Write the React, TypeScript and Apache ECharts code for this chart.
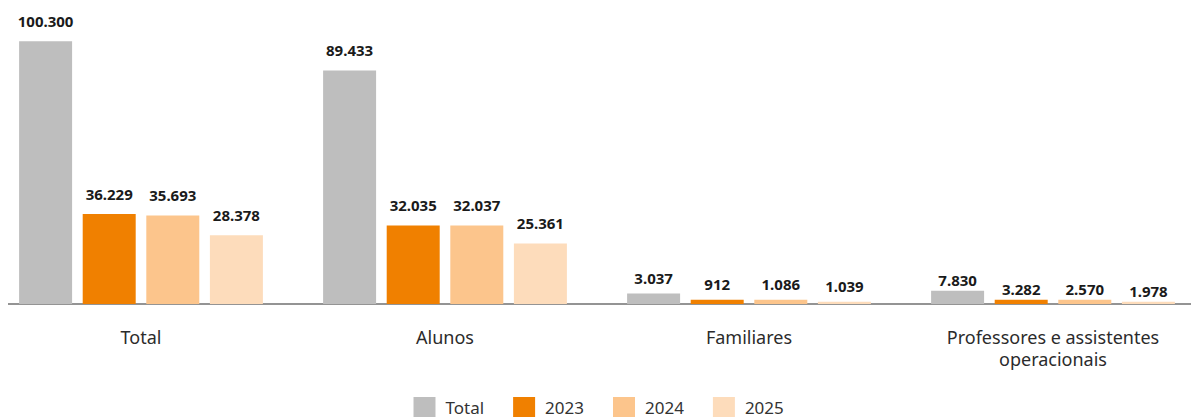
import React, { useEffect, useRef } from "react";
import * as echarts from "echarts";

const categories = ["Total", "Alunos", "Familiares", "Professores e assistentes\noperacionais"];
const seriesNames = ["Total", "2023", "2024", "2025"];
const totalValues = [100300, 89433, 3037, 7830];
const values2023 = [36229, 32035, 912, 3282];
const values2024 = [35693, 32037, 1086, 2570];
const values2025 = [28378, 25361, 1039, 1978];
const colors = ["#bebebe", "#f08000", "#fcc58c", "#fddcbb"];
const minHeights = [10.6, 4.3, 4.3, 2.3];
const labelDistances = [13, 13, 8, 3];

const fmt = (v: number) => String(Math.round(v)).replace(/\B(?=(\d{3})+(?!\d))/g, ".");

export default function App() {
  const ref = useRef<HTMLDivElement>(null);
  useEffect(() => {
    if (!ref.current) return;
    const chart = echarts.init(ref.current, null, { renderer: "svg" });
    const all = [totalValues, values2023, values2024, values2025];
    chart.setOption({
      animation: false,
      textStyle: { fontFamily: "Noto Sans" },
      grid: { left: 0, right: 0, top: 15, bottom: 113, containLabel: false },
      legend: {
        left: 424.5,
        top: 397,
        padding: 0,
        itemWidth: 22,
        itemHeight: 20,
        itemGap: 29,
        icon: "rect",
        textStyle: { fontSize: 17, color: "#333", padding: [0, 0, 0, 5], fontFamily: "Noto Sans" },
        data: seriesNames,
      },
      xAxis: {
        type: "category",
        data: categories,
        axisLine: { lineStyle: { color: "#707070", width: 1.5 } },
        axisTick: { show: false },
        axisLabel: { fontSize: 18, color: "#2b2b2b", lineHeight: 22, margin: 22, fontFamily: "Noto Sans" },
      },
      yAxis: {
        type: "value",
        show: false,
        min: 0,
        max: 110000,
        splitLine: { show: false },
        breaks: [{ start: 0, end: 2930, gap: 1 }],
        breakArea: { show: false },
      },
      series: all.map((d, i) => ({
        name: seriesNames[i],
        type: "bar",
        data: d.map((v, j) => ({ value: v, label: { distance: labelDistances[j] } })),
        barWidth: 53,
        barGap: "20%",
        barMinHeight: minHeights[i],
        itemStyle: { color: colors[i] },
        label: {
          show: true,
          position: "top",
          formatter: (p: any) => fmt(p.value),
          fontSize: 15,
          fontWeight: "bold",
          color: "#1a1a1a",
          fontFamily: "Noto Sans",
        },
      })),
    });
    return () => chart.dispose();
  }, []);
  return (
    <div style={{ position: "fixed", left: 8, top: 0, width: 1183, height: 417, overflow: "hidden", background: "#fff" }}>
      <div ref={ref} style={{ position: "absolute", left: -19.5, top: 0, width: 1216, height: 417 }} />
    </div>
  );
}
